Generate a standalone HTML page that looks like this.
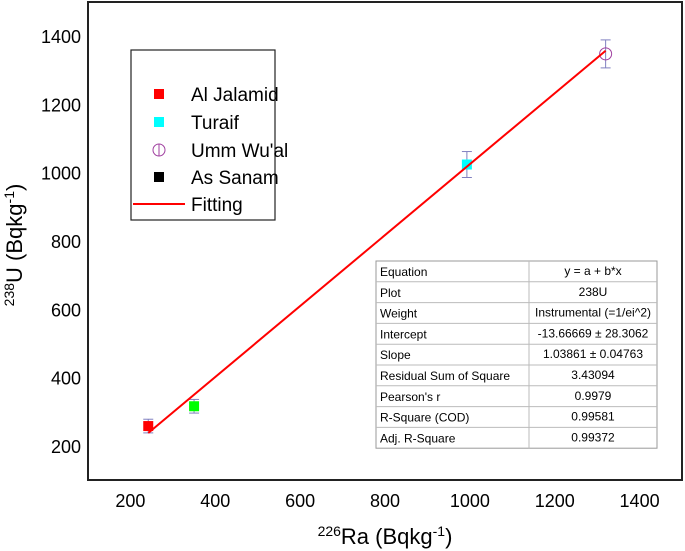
<!DOCTYPE html>
<html><head><meta charset="utf-8"><style>
body{margin:0;background:#fff;}
svg{display:block;font-family:"Liberation Sans",sans-serif;}
</style></head><body>
<svg id="chart" width="685" height="551" xmlns="http://www.w3.org/2000/svg">
<rect x="88" y="2" width="594" height="478" fill="#fff" stroke="#222" stroke-width="2"/>
<g id="ticks"></g>
<g id="marks"></g>
<text x="22" y="245" font-size="22" text-anchor="middle" transform="rotate(-90 22 245)"><tspan font-size="14" dy="-8">238</tspan><tspan dy="8">U (Bqkg</tspan><tspan font-size="14" dy="-8">-1</tspan><tspan dy="8">)</tspan></text>
<text x="385" y="544" font-size="22" text-anchor="middle"><tspan font-size="14" dy="-8">226</tspan><tspan dy="8">Ra (Bqkg</tspan><tspan font-size="14" dy="-8">-1</tspan><tspan dy="8">)</tspan></text>
<g>
<rect x="131" y="50" width="144" height="170" fill="#fff" stroke="#222" stroke-width="1.2"/>
<rect x="154" y="89" width="10" height="10" fill="#f00"/>
<text x="191" y="101" font-size="19">Al Jalamid</text>
<rect x="154" y="117" width="10" height="10" fill="#0ff"/>
<text x="191" y="129" font-size="19">Turaif</text>
<circle cx="159" cy="150" r="6" fill="none" stroke="#a040a0"/>
<line x1="159" y1="144" x2="159" y2="156" stroke="#a040a0"/>
<text x="191" y="157" font-size="19">Umm Wu'al</text>
<rect x="154" y="172" width="10" height="10" fill="#000"/>
<text x="191" y="184" font-size="19">As Sanam</text>
<line x1="133" y1="204" x2="185" y2="204" stroke="#f00" stroke-width="2"/>
<text x="191" y="211" font-size="19">Fitting</text>
</g>
<g id="table"></g>
</svg>
<script>
const xTicks=[200,400,600,800,1000,1200,1400];
const yTicks=[200,400,600,800,1000,1200,1400];
const siteNames=["Al Jalamid","As Sanam","Turaif","Umm Wu'al"];
const raValues=[242,350,993,1320];
const uValues=[258,316,1024,1348];
const uErrors=[20,20,38,41];
const fitIntercept=-13.66669;
const fitSlope=1.03861;
const tableLabels=["Equation","Plot","Weight","Intercept","Slope","Residual Sum of Square","Pearson's r","R-Square (COD)","Adj. R-Square"];
const tableValues=["y = a + b*x","238U","Instrumental (=1/ei^2)","-13.66669 ± 28.3062","1.03861 ± 0.04763","3.43094","0.9979","0.99581","0.99372"];

const NS="http://www.w3.org/2000/svg";
const X=v=>88+(v-100)*594/1400;
const Y=v=>480-(v-100)*478/1400;
function mk(tag,attrs,parent,text){const e=document.createElementNS(NS,tag);for(const k in attrs)e.setAttribute(k,attrs[k]);if(text!==undefined)e.textContent=text;parent.appendChild(e);return e;}
const tg=document.getElementById('ticks');
xTicks.forEach(v=>{const t=mk('text',{x:X(v),y:507,'font-size':18,'text-anchor':'middle'},tg,String(v));

});
yTicks.forEach(v=>{const t=mk('text',{x:81,y:Y(v)+7,'font-size':18,'text-anchor':'end'},tg,String(v));

});
const mg=document.getElementById('marks');
const fills=["#f00","#0f0","#0ff","none"];
raValues.forEach((r,i)=>{
 const cx=X(r),cy=Y(uValues[i]),t=Y(uValues[i]+uErrors[i]),b=Y(uValues[i]-uErrors[i]);
 const g=mk('g',{},mg);
 
 
 mk('line',{x1:cx,y1:t,x2:cx,y2:b,stroke:'#8080c0'},g);
 mk('line',{x1:cx-5,y1:t,x2:cx+5,y2:t,stroke:'#8080c0'},g);
 mk('line',{x1:cx-5,y1:b,x2:cx+5,y2:b,stroke:'#8080c0'},g);
 if(fills[i]==='none'){mk('circle',{cx:cx,cy:cy,r:6,fill:'none',stroke:'#a040a0'},g);}
 else mk('rect',{x:cx-5,y:cy-5,width:10,height:10,fill:fills[i]},g);
});
const x0=Math.min(...raValues),x1=Math.max(...raValues);
const fl=mk('line',{x1:X(x0),y1:Y(fitIntercept+fitSlope*x0),x2:X(x1),y2:Y(fitIntercept+fitSlope*x1),stroke:'#f00','stroke-width':2},mg);


const tb=document.getElementById('table');
const tx=376,ty=261,tw=281,rh=20.8,cd=529;
mk('rect',{x:tx,y:ty,width:tw,height:rh*9,fill:'#fff',stroke:'#999'},tb);
mk('line',{x1:cd,y1:ty,x2:cd,y2:ty+rh*9,stroke:'#bbb'},tb);
tableLabels.forEach((l,i)=>{
 if(i>0)mk('line',{x1:tx,y1:ty+rh*i,x2:tx+tw,y2:ty+rh*i,stroke:'#bbb'},tb);
 const a=mk('text',{x:tx+4,y:ty+rh*i+15,'font-size':12},tb,l);
 
 
 const b=mk('text',{x:(cd+tx+tw)/2,y:ty+rh*i+14,'font-size':12,'text-anchor':'middle'},tb,tableValues[i]);
 
 
});
</script>
</body></html>
